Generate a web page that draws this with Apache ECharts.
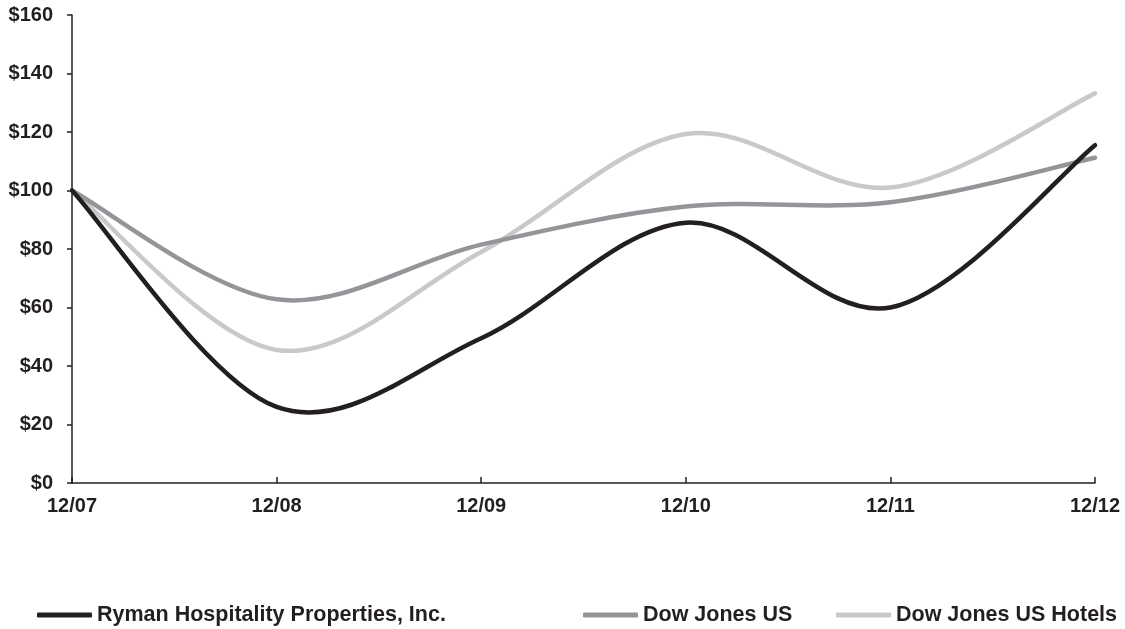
<!DOCTYPE html>
<html>
<head>
<meta charset="utf-8">
<script src="https://cdn.jsdelivr.net/npm/echarts@6/dist/echarts.min.js"></script>
<style>
html,body{margin:0;padding:0;background:#fff;}
#chart{width:1125px;height:629px;}
</style>
</head>
<body>
<div id="chart"></div>
<script>
var categories = ['12/07', '12/08', '12/09', '12/10', '12/11', '12/12'];
var seriesNames = ['Ryman Hospitality Properties, Inc.', 'Dow Jones US', 'Dow Jones US Hotels'];
var ryman = [100, 26, 49.5, 89, 60, 115.5];
var dowJonesUS = [100, 62.8, 81.5, 94.5, 96, 111.2];
var dowJonesHotels = [100, 45.5, 79, 119.3, 101, 133.2];
var yTicks = [0, 20, 40, 60, 80, 100, 120, 140, 160];

var colors = ['#231f20', '#939598', '#c8c9cb'];
var font = "'Liberation Sans', Arial, sans-serif";
var textColor = '#231f20';

var chart = echarts.init(document.getElementById('chart'), null, {renderer: 'canvas'});

function mkLegend(name, left) {
  return {
    show: true,
    data: [name],
    left: left,
    top: 604,
    itemWidth: 55,
    itemHeight: 5,
    itemGap: 0,
    padding: 0,
    icon: 'roundRect',
    textStyle: {fontFamily: font, fontWeight: 'bold', fontSize: 21.5, lineHeight: 22, color: textColor}
  };
}

var dataSets = [ryman, dowJonesUS, dowJonesHotels];

// Excel-style smoothed line drawn through the axis scales (api.coord)
function smoothSeries(idx) {
  var vals = dataSets[idx];
  return {
    name: seriesNames[idx],
    type: 'custom',
    z: 10 - idx,
    itemStyle: {color: colors[idx]},
    data: vals.map(function (v, i) { return [i, v]; }),
    encode: {x: 0, y: 1},
    renderItem: function (params, api) {
      if (params.dataIndex !== 0) return null;
      var n = vals.length;
      var pts = vals.map(function (v, i) { return api.coord([i, v]); });
      var d = 'M' + pts[0][0] + ' ' + pts[0][1];
      for (var i = 0; i < n - 1; i++) {
        var p0 = pts[Math.max(i - 1, 0)], p1 = pts[i], p2 = pts[i + 1], p3 = pts[Math.min(i + 2, n - 1)];
        var c1x = p1[0] + (p2[0] - p0[0]) / 6, c1y = p1[1] + (p2[1] - p0[1]) / 6;
        var c2x = p2[0] - (p3[0] - p1[0]) / 6, c2y = p2[1] - (p3[1] - p1[1]) / 6;
        d += ' C' + c1x + ' ' + c1y + ' ' + c2x + ' ' + c2y + ' ' + p2[0] + ' ' + p2[1];
      }
      return {
        type: 'path',
        shape: {pathData: d},
        style: {fill: 'none', stroke: colors[idx], lineWidth: 4.5, lineCap: 'round', lineJoin: 'round'}
      };
    }
  };
}

chart.setOption({
  animation: false,
  backgroundColor: '#fff',
  grid: {left: 72, right: 30, top: 15, bottom: 146, containLabel: false},
  legend: [
    mkLegend(seriesNames[0], 37),
    mkLegend(seriesNames[1], 583),
    mkLegend(seriesNames[2], 836)
  ],
  xAxis: {
    type: 'category',
    data: categories,
    boundaryGap: false,
    axisLine: {lineStyle: {color: textColor, width: 1.5}},
    axisTick: {show: true, inside: true, length: 6, lineStyle: {color: textColor, width: 1.5}},
    axisLabel: {fontFamily: font, fontWeight: 'bold', fontSize: 20, color: textColor, margin: 13},
    splitLine: {show: false}
  },
  yAxis: {
    type: 'value',
    min: yTicks[0],
    max: yTicks[yTicks.length - 1],
    interval: 20,
    axisLine: {show: true, lineStyle: {color: textColor, width: 1.5}},
    axisTick: {show: true, inside: false, length: 5, lineStyle: {color: textColor, width: 1.5}},
    axisLabel: {fontFamily: font, fontWeight: 'bold', fontSize: 20, color: textColor, margin: 19,
      formatter: function (v) { return '$' + v; }},
    splitLine: {show: false}
  },
  series: [smoothSeries(0), smoothSeries(1), smoothSeries(2)]
});
</script>
</body>
</html>
